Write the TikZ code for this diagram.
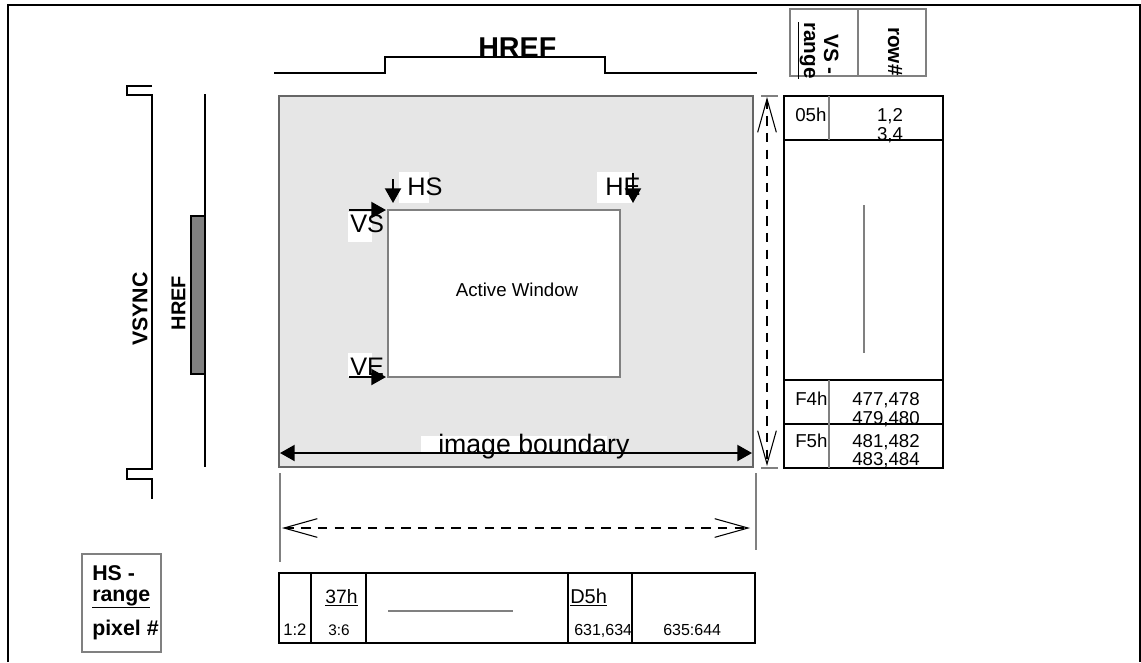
\documentclass[tikz,border=0pt]{standalone}
\usepackage{fontspec}
\setmainfont{Liberation Sans}
\usetikzlibrary{arrows.meta}
\definecolor{midgray}{HTML}{808080}
\definecolor{bgfill}{HTML}{E6E6E6}
\newcommand\myfs[1]{\fontsize{#1}{#1}\selectfont}
\begin{document}
\begin{tikzpicture}[x=0.75pt,y=-0.75pt,line join=miter,
  blk/.style={line width=1.5pt},
  gryl/.style={draw=midgray,line width=1.3pt},
  txt/.style={inner sep=0pt,anchor=base west},
  ctxt/.style={inner sep=0pt,anchor=base},
  solidtip/.style={line width=1.5pt,-{Triangle[length=11pt,width=12pt]}},
  barbs/.style={line width=1.3pt,dash pattern=on 7pt off 5.5pt,
     {Straight Barb[length=25pt,width=14pt,line width=0.8pt]}-{Straight Barb[length=25pt,width=14pt,line width=0.8pt]}}]
\useasboundingbox (0,0) rectangle (1141,662);
% outer frame
\draw[blk] (8,662) -- (8,5) -- (1140,5) -- (1140,662);

% top HREF waveform
\node[txt] (hreftop) at (478,57) {\bfseries\myfs{21.5}HREF};
\coordinate (tw0) at (274,73);
\coordinate (tw1) at (757,73);
\draw[blk] (tw0) -- (385,73) -- (385,57) -- (605,57) -- (605,73) -- (tw1);

% VSYNC waveform
\coordinate (vs0) at (152,86);
\coordinate (vs1) at (152,499);
\draw[blk] (vs0) -- (127,86) -- (127,95) -- (152,95) -- (152,469) -- (127,469) -- (127,479) -- (152,479) -- (vs1);
\node[rotate=90,inner sep=0pt] (vsync) at (140,309) {\bfseries\myfs{16}VSYNC};

% HREF vertical waveform
\coordinate (hr0) at (205,94);
\coordinate (hr1) at (205,467);
\draw[blk] (hr0) -- (hr1);
\draw[line width=1pt,fill=midgray] (191,216) rectangle (205,374);
\node[rotate=90,inner sep=0pt] (hrefv) at (178.5,303) {\bfseries\myfs{15}HREF};

% image boundary area
\fill[bgfill] (279,96) rectangle (753,467);
\draw[draw=midgray!80!black,line width=1.6pt] (279,96) rectangle (753,467);

% active window
\draw[gryl,fill=white] (388,210) rectangle (620,377);
\node[inner sep=0pt] (aw) at (517,290) {\myfs{14}Active Window};

% HS / HE / VS / VE labels
\fill[white] (399,172) rectangle (429,203);
\node[txt] (hs) at (407,195) {\myfs{19}HS};
\fill[white] (597,172) rectangle (632,203);
\node[txt] (he) at (605,195) {\myfs{19}HE};
\fill[white] (348,212) rectangle (372,242);
\node[txt] (vs) at (350,232) {\myfs{19}VS};
\fill[white] (348,353) rectangle (372,377);
\node[txt] (ve) at (350,375) {\myfs{19}VE};

\coordinate (hsa0) at (393,179); \coordinate (hsa1) at (393,203);
\draw[solidtip] (hsa0) -- (hsa1);
\coordinate (hea0) at (633,173); \coordinate (hea1) at (633,203);
\draw[solidtip] (hea0) -- (hea1);
\coordinate (vsa0) at (349,210); \coordinate (vsa1) at (386,210);
\draw[solidtip] (vsa0) -- (vsa1);
\coordinate (vea0) at (349,377); \coordinate (vea1) at (386,377);
\draw[solidtip] (vea0) -- (vea1);

% image boundary arrow
\coordinate (ib0) at (280,453); \coordinate (ib1) at (752,453);
\draw[line width=1.5pt,{Triangle[length=11pt,width=12pt]}-{Triangle[length=11pt,width=12pt]}] (ib0) -- (ib1);
\fill[white] (421,436) rectangle (607,452);
\node[txt] (ibl) at (438,453) {\myfs{20}image boundary};
\coordinate (ib2) at (607,453); \coordinate (ib3) at (735,453);
\draw[line width=1.5pt] (ib2) -- (ib3);

% lower dimension lines
\coordinate (dl0) at (280,473); \coordinate (dl1) at (280,562);
\coordinate (dr0) at (756,473); \coordinate (dr1) at (756,550);
\draw[gryl] (dl0) -- (dl1);
\draw[gryl] (dr0) -- (dr1);
\coordinate (da0) at (282,528); \coordinate (da1) at (750,528);
\draw[barbs] (da0) -- (da1);

% vertical dashed arrow
\coordinate (va0) at (767,97); \coordinate (va1) at (767,466);
\draw[barbs] (va0) -- (va1);
\draw[gryl] (761,96) -- (778,96);
\draw[gryl] (761,468) -- (778,468);

% right table
\draw[blk] (784,96) rectangle (943,468);
\draw[blk] (784,140) -- (943,140);
\draw[blk] (784,380) -- (943,380);
\draw[blk] (784,424) -- (943,424);
\draw[gryl] (829,96) -- (829,140);
\draw[gryl] (829,380) -- (829,468);
\draw[gryl] (864,205) -- (864,353);
\node[txt] (r05) at (795,121) {\myfs{14}05h};
\node[ctxt] (r12) at (890,121) {\myfs{14}1,2};
\node[ctxt] (r34) at (890,140) {\myfs{14}3,4};
\node[txt] (rf4) at (795,405) {\myfs{14}F4h};
\node[txt] (r477) at (852,405) {\myfs{14}477,478};
\node[txt] (r479) at (852,424) {\myfs{14}479,480};
\node[txt] (rf5) at (795,447) {\myfs{14}F5h};
\node[txt] (r481) at (852,447) {\myfs{14}481,482};
\node[txt] (r483) at (852,465) {\myfs{14}483,484};

% right header
\draw[gryl] (790,9) rectangle (926,76);
\draw[gryl] (858,9) -- (858,76);
\node[rotate=-90,inner sep=0pt,anchor=base west] (hrng) at (804,22) {\bfseries\myfs{15.5}\underline{range}};
\node[rotate=-90,inner sep=0pt,anchor=base west] (hvs) at (824,34) {\bfseries\myfs{15.5}VS -};
\node[rotate=-90,inner sep=0pt,anchor=base west] (hrow) at (888,27) {\bfseries\myfs{15.5}row\#};

% bottom-left header
\draw[gryl] (82,554) rectangle (161,652);
\node[txt] (bhs) at (92,580) {\bfseries\myfs{16}HS -};
\node[txt] (brg) at (92,601) {\bfseries\myfs{16}\underline{range}};
\node[txt] (bpx) at (92,635) {\bfseries\myfs{16}pixel \#};

% bottom table
\draw[blk] (279,573) rectangle (755,643);
\draw[blk] (311,573) -- (311,643);
\draw[blk] (366,573) -- (366,643);
\draw[blk] (568,573) -- (568,643);
\draw[blk] (632,573) -- (632,643);
\draw[gryl] (388,611) -- (513,611);
\node[txt] (b12) at (283,635) {\myfs{12.5}1:2};
\node[txt] (b36) at (328,635) {\myfs{11.5}3:6};
\node[txt] (b37) at (325,603) {\myfs{14.5}\underline{37h}};
\node[txt] (bd5) at (570,603) {\myfs{15}\underline{D5h}};
\node[txt] (b631) at (574,635) {\myfs{12}631,634};
\node[txt] (b635) at (663,635) {\myfs{12}635:644};
\end{tikzpicture}
\end{document}
